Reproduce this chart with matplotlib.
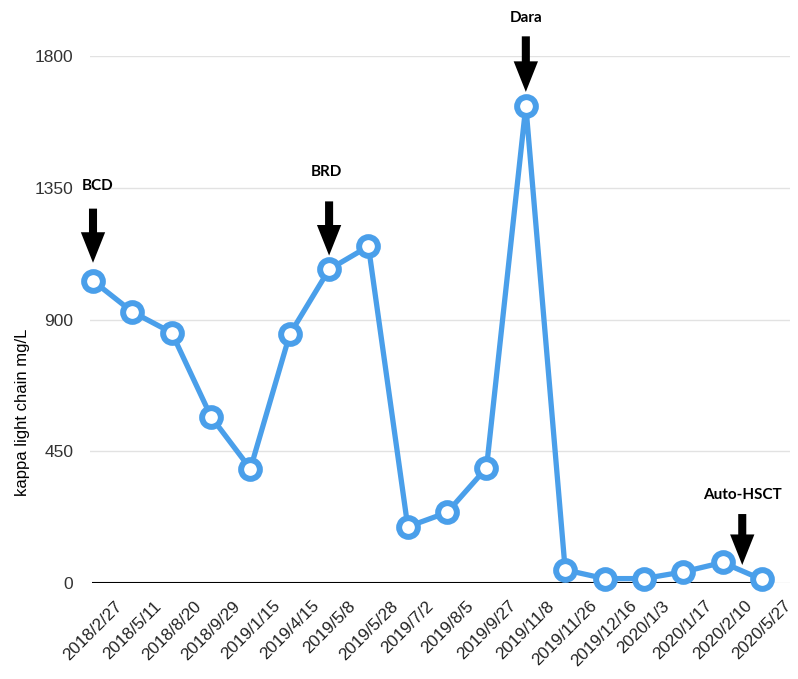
import matplotlib
matplotlib.use("Agg")
import matplotlib.pyplot as plt

# sample dates and kappa light chain values (mg/L)
dates = ['2018/2/27', '2018/5/11', '2018/8/20', '2018/9/29', '2019/1/15',
         '2019/4/15', '2019/5/8', '2019/5/28', '2019/7/2', '2019/8/5',
         '2019/9/27', '2019/11/8', '2019/11/26', '2019/12/16', '2020/1/3',
         '2020/1/17', '2020/2/10', '2020/5/27']
kappa = [1032, 926, 855, 568, 390, 849, 1071, 1150, 192, 241, 393, 1630,
         45, 15, 15, 38, 70, 12]
yticks = [0, 450, 900, 1350, 1800]

# treatment markers: label, x position (index), y value the arrow points at
treat_labels = ['BCD', 'BRD', 'Dara', 'Auto-HSCT']
treat_x = [0, 6, 11, 16.5]
treat_y = [1032, 1071, 1630, 41]

blue = '#4a9fea'

def main():
    fig = plt.figure(figsize=(7.98, 6.79), dpi=100)
    ax = fig.add_axes([0.1128, 0.1414, 0.877, 0.7761])
    x = list(range(len(dates)))

    ax.plot(x, kappa, color=blue, lw=3.8, marker='o', ms=13.5, mew=4.3,
            mfc='white', mec=blue, zorder=3, solid_joinstyle='round',
            clip_on=False)

    ax.set_ylim(0, 1800)
    ax.set_xlim(-0.076, 17.71)
    ax.set_yticks(yticks)
    ax.set_yticklabels([str(v) for v in yticks], fontsize=12.5,
                       family='Liberation Sans', color='#333333')
    ax.set_xticks(x)
    ax.set_xticklabels(dates, rotation=45, ha='center', fontsize=12.3,
                       family='Liberation Sans', color='#222222')
    ax.tick_params(axis='y', length=0, pad=12)
    ax.tick_params(axis='x', length=0, pad=11)
    ax.set_ylabel('kappa light chain mg/L', fontsize=12,
                  family='Liberation Sans', va='center')
    ax.yaxis.set_label_coords(-0.096, 0.323)

    for s in ax.spines.values():
        s.set_visible(False)
    ax.grid(axis='y', color='#e2e2e2', lw=1)
    ax.set_axisbelow(True)
    ax.hlines(0, x[0] - 0.03, x[-1], color='black', lw=1.5, zorder=2)

    # offsets in points: (text dx, tip gap, tail, text)
    offs = {'BCD': (3, 13, 52, 68),
            'BRD': (-2, 10, 49, 70),
            'Dara': (0, 10, 50, 63),
            'Auto-HSCT': (0, 4.3, 41, 55)}
    for lab, tx, ty in zip(treat_labels, treat_x, treat_y):
        tdx, tip, tail, txt = offs[lab]
        ax.annotate('', xy=(tx, ty), xycoords='data',
                    xytext=(0, tail), textcoords='offset points',
                    arrowprops=dict(arrowstyle='simple,head_length=2.2,head_width=1.75,tail_width=0.58',
                                    mutation_scale=10, lw=0, color='black',
                                    shrinkA=0, shrinkB=tip),
                    annotation_clip=False)
        ax.annotate(lab, xy=(tx, ty), xytext=(tdx, txt),
                    textcoords='offset points', ha='center', va='center',
                    fontsize=11, fontweight='bold', family='Lato',
                    annotation_clip=False)

    fig.savefig('out.png', dpi=100)

if __name__ == '__main__':
    main()
